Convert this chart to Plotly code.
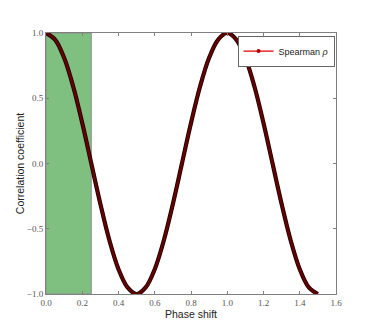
import plotly.graph_objects as go

phase = [0.00, 0.05, 0.10, 0.15, 0.20, 0.25, 0.30, 0.35, 0.40, 0.45, 0.50,
         0.55, 0.60, 0.65, 0.70, 0.75, 0.80, 0.85, 0.90, 0.95, 1.00,
         1.05, 1.10, 1.15, 1.20, 1.25, 1.30, 1.35, 1.40, 1.45, 1.50]
spearman = [1.00, 0.95, 0.81, 0.59, 0.31, 0.00, -0.31, -0.59, -0.81, -0.95, -1.00,
            -0.95, -0.81, -0.59, -0.31, 0.00, 0.31, 0.59, 0.81, 0.95, 1.00,
            0.95, 0.81, 0.59, 0.31, 0.00, -0.31, -0.59, -0.81, -0.95, -1.00]
span = [0.0, 0.25]
xticks = [0.0, 0.2, 0.4, 0.6, 0.8, 1.0, 1.2, 1.4, 1.6]
yticks = [-1.0, -0.5, 0.0, 0.5, 1.0]
xlabels = ["0.0", "0.2", "0.4", "0.6", "0.8", "1.0", "1.2", "1.4", "1.6"]
ylabels = ["\u22121.0", "\u22120.5", "0.0", "0.5", "1.0"]

fig = go.Figure()
# dark outline
fig.add_trace(go.Scatter(x=phase, y=spearman, mode="lines", line=dict(color="#200000", width=4.2, shape="spline"),
                         showlegend=False, hoverinfo="skip", cliponaxis=False))
fig.add_trace(go.Scatter(x=phase, y=spearman, mode="lines", line=dict(color="#660000", width=2.4, shape="spline"),
                         showlegend=False, cliponaxis=False))
# legend entry
fig.add_trace(go.Scatter(x=[None], y=[None], mode="lines+markers", name="Spearman <i>\u03c1</i>",
                         line=dict(color="#e00000", width=1.2), marker=dict(color="#b00000", size=4)))

fig.add_shape(type="rect", xref="x", yref="y", x0=span[0], x1=span[1], y0=-1, y1=1,
              fillcolor="rgb(127,191,127)", line=dict(color="#909090", width=1), layer="below")

axis_common = dict(showgrid=False, zeroline=False, showline=True, linecolor="#808080", linewidth=1,
                   mirror="allticks", ticks="inside", ticklen=3, tickcolor="#808080", automargin=False,
                   tickfont=dict(family="Liberation Serif", size=9, color="#555555"))
fig.update_xaxes(range=[0, 1.6], tickvals=xticks, ticktext=xlabels,
                 title=dict(text="Phase shift", font=dict(family="Liberation Sans", size=10.5, color="#222"), standoff=0),
                 **axis_common)
fig.update_yaxes(range=[-1, 1], tickvals=yticks, ticktext=ylabels,
                 title=dict(text="Correlation coefficient", font=dict(family="Liberation Sans", size=10.5, color="#222"), standoff=0),
                 **axis_common)

fig.update_layout(
    width=366, height=319,
    margin=dict(l=38, r=38, t=25, b=33, autoexpand=False),
    paper_bgcolor="white", plot_bgcolor="white",
    legend=dict(x=0.995, y=0.99, xanchor="right", yanchor="top", bgcolor="white",
                bordercolor="#666666", borderwidth=1,
                font=dict(family="Liberation Sans", size=9, color="#222"),
                itemwidth=30, tracegroupgap=0),
)
fig.write_html("out.html")
